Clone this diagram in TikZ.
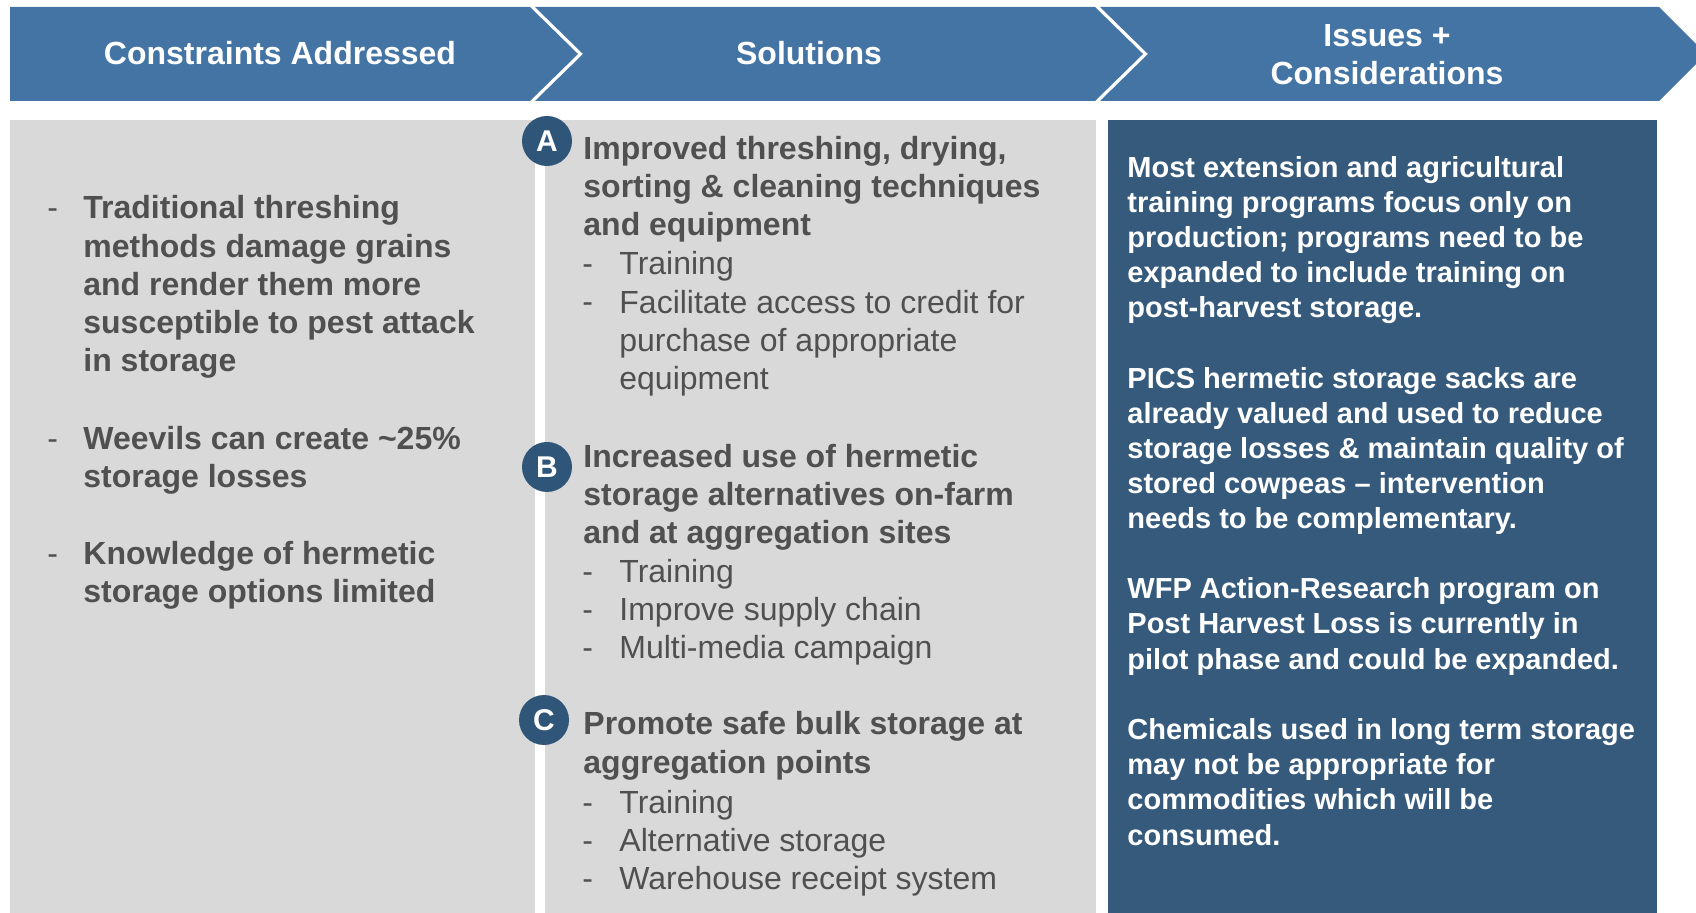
\documentclass[tikz,border=0pt]{standalone}
\usepackage{xcolor}
\usepackage{fontspec}
\setmainfont{Liberation Sans}
\usepackage{tikz}
\usetikzlibrary{positioning}

\definecolor{hdrblue}{RGB}{68,116,163}
\definecolor{darkblue}{RGB}{53,90,124}
\definecolor{badgeblue}{RGB}{47,85,120}
\definecolor{panelgray}{RGB}{217,217,217}
\definecolor{txtgray}{RGB}{80,80,80}

\begin{document}
\begin{tikzpicture}[x=0.5pt,y=-0.5pt,
  hdrtext/.style={inner sep=0pt,text=white,align=center,anchor=base,font=\bfseries\fontsize{16}{19}\selectfont},
  cons/.style={inner sep=0pt,text=txtgray,align=left,anchor=base west,font=\bfseries\fontsize{16}{19.15}\selectfont},
  sub/.style={inner sep=0pt,text=txtgray,align=left,anchor=base west,font=\fontsize{16}{19.15}\selectfont},
  dashmark/.style={inner sep=0pt,text=txtgray,anchor=base west,font=\fontsize{16}{19.15}\selectfont},
  issue/.style={inner sep=0pt,text=white,align=left,anchor=base west,font=\bfseries\fontsize{14.5}{17.6}\selectfont},
  badge/.style={circle,fill=badgeblue,minimum size=25pt,inner sep=0pt,text=white,font=\bfseries\fontsize{15}{15}\selectfont}]
\useasboundingbox (0,0) rectangle (1696,913);

% header chevrons
\fill[hdrblue] (10,7) -- (530,7) -- (578,54) -- (530,101) -- (10,101) -- cycle;
\fill[hdrblue] (535,7) -- (1095,7) -- (1143,54) -- (1095,101) -- (535,101) -- (583,54) -- cycle;
\fill[hdrblue] (1100,7) -- (1659,7) -- (1706,54) -- (1659,101) -- (1100,101) -- (1148,54) -- cycle;
% multi-line nodes: base = baseline of the last line
\node[hdrtext] (h1) at (280,65) {Constraints Addressed};
\node[hdrtext] (h2) at (809,65) {Solutions};
\node[hdrtext] (h3) at (1387,85) {Issues +\\Considerations};

% panels
\fill[panelgray] (10,120) rectangle (535,913);
\fill[panelgray] (545,120) rectangle (1096,913);
\fill[darkblue] (1108,120) rectangle (1657,913);

% constraints
\node[dashmark] (d1) at (47,219) {-};
\node[cons] (c1) at (83,372) {Traditional threshing\\methods damage grains\\and render them more\\susceptible to pest attack\\in storage};
\node[dashmark] (d2) at (47,450) {-};
\node[cons] (c2) at (83,488) {Weevils can create \textasciitilde25\%\\storage losses};
\node[dashmark] (d3) at (47,565) {-};
\node[cons] (c3) at (83,603) {Knowledge of hermetic\\storage options limited};

% solutions
\node[badge] (ba) at (547,141) {A};
\node[cons] (sa) at (583,236) {Improved threshing, drying,\\sorting \& cleaning techniques\\and equipment};
\node[dashmark] (da1) at (582,275) {-};
\node[sub] (sa1) at (619,275) {Training};
\node[dashmark] (da2) at (582,313) {-};
\node[sub] (sa2) at (619,390) {Facilitate access to credit for\\purchase of appropriate\\equipment};

\node[badge] (bb) at (547,467) {B};
\node[cons] (sb) at (583,544) {Increased use of hermetic\\storage alternatives on-farm\\and at aggregation sites};
\node[dashmark] (db1) at (582,583) {-};
\node[sub] (sb1) at (619,583) {Training};
\node[dashmark] (db2) at (582,621) {-};
\node[sub] (sb2) at (619,621) {Improve supply chain};
\node[dashmark] (db3) at (582,659) {-};
\node[sub] (sb3) at (619,659) {Multi-media campaign};

\node[badge] (bc) at (544,720) {C};
\node[cons] (sc) at (583,773) {Promote safe bulk storage at\\aggregation points};
\node[dashmark] (dc1) at (582,813) {-};
\node[sub] (sc1) at (619,813) {Training};
\node[dashmark] (dc2) at (582,851) {-};
\node[sub] (sc2) at (619,851) {Alternative storage};
\node[dashmark] (dc3) at (582,889) {-};
\node[sub] (sc3) at (619,889) {Warehouse receipt system};

% issues + considerations
\node[issue] (i1) at (1127,318) {Most extension and agricultural\\training programs focus only on\\production; programs need to be\\expanded to include training on\\post-harvest storage.};
\node[issue] (i2) at (1127,529) {PICS hermetic storage sacks are\\already valued and used to reduce\\storage losses \& maintain quality of\\stored cowpeas -- intervention\\needs to be complementary.};
\node[issue] (i3) at (1127,669) {WFP Action-Research program on\\Post Harvest Loss is currently in\\pilot phase and could be expanded.};
\node[issue] (i4) at (1127,845) {Chemicals used in long term storage\\may not be appropriate for\\commodities which will be\\consumed.};
\end{tikzpicture}
\end{document}
